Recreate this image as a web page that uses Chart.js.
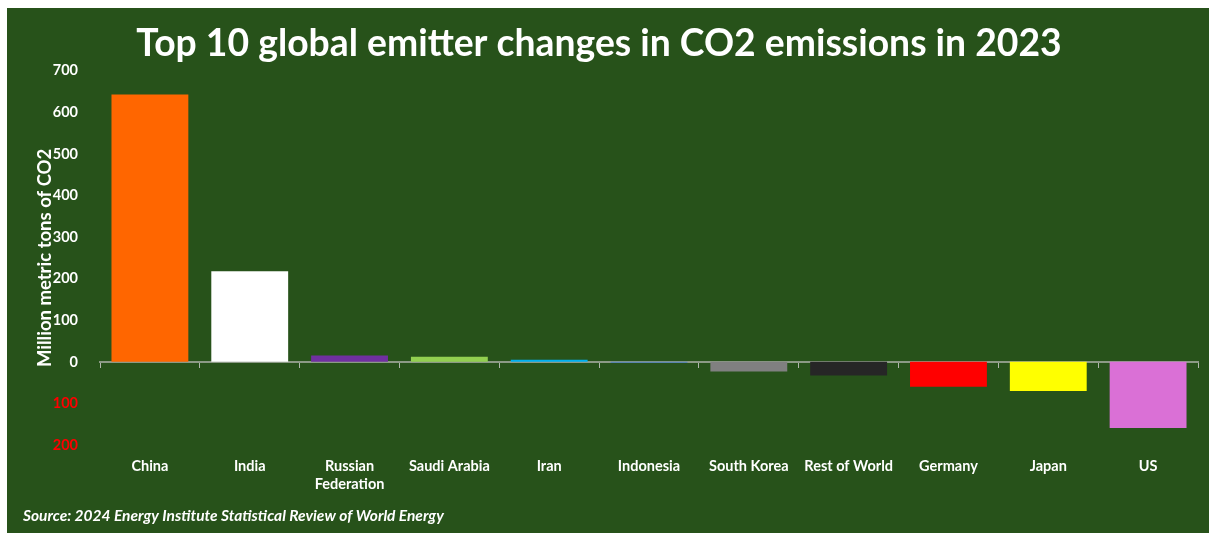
<!DOCTYPE html>
<html>
<head>
<meta charset="utf-8">
<script src="https://cdn.jsdelivr.net/npm/chart.js@4/dist/chart.umd.min.js"></script>
<style>
    html, body { margin: 0; padding: 0; background: #fff; }
    #wrap { position: relative; width: 1209px; height: 533px; }
</style>
</head>
<body>
<div id="wrap"><canvas id="co2Chart"></canvas></div>
<script>
const countries = ["China", "India", ["Russian", "Federation"], "Saudi Arabia", "Iran", "Indonesia",
    "South Korea", "Rest of World", "Germany", "Japan", "US"];
const changes = [643, 218, 15, 12, 5, -2, -23, -33, -60, -70, -159];
const barColors = ["#FF6600", "#FFFFFF", "#7030A0", "#92D050", "#00B0F0", "#4A7EBB",
    "#808080", "#262626", "#FF0000", "#FFFF00", "#DA70D6"];
const yTicks = [-200, -100, 0, 100, 200, 300, 400, 500, 600, 700];

const green = "#27521A";
const fontFamily = "Lato, 'Open Sans', sans-serif";

const panelBg = {
    id: "panelBg",
    beforeDraw(chart) {
        const c = chart.ctx;
        c.save();
        c.fillStyle = green;
        c.fillRect(7, 8, chart.width - 7, chart.height - 8);
        c.restore();
    },
    afterDraw(chart) {
        const c = chart.ctx;
        c.save();
        c.fillStyle = "#fff";
        c.font = "italic bold 15.5px " + fontFamily;
        c.textBaseline = "middle";
        c.fillText("Source: 2024 Energy Institute Statistical Review of World Energy", 23, 516);
        c.restore();
    }
};

const ctx = document.getElementById("co2Chart").getContext("2d");

new Chart(ctx, {
    type: "bar",
    data: {
        labels: countries,
        datasets: [{
            data: changes,
            backgroundColor: barColors,
            borderWidth: 0,
            barPercentage: 0.77,
            categoryPercentage: 1
        }]
    },
    options: {
        responsive: true,
        maintainAspectRatio: false,
        animation: false,
        layout: { padding: { left: 0, right: 11, top: 0, bottom: 40 } },
        plugins: {
            legend: { display: false },
            tooltip: { enabled: false },
            title: {
                display: true,
                text: "Top 10 global emitter changes in CO2 emissions in 2023",
                color: "#fff",
                font: { family: fontFamily, size: 37.3, weight: "bold" },
                padding: { top: 22, bottom: 4 }
            }
        },
        scales: {
            x: {
                afterFit(scale) { scale.height = 48; },
                grid: { display: false },
                border: { display: false },
                ticks: {
                    color: "#fff",
                    padding: 5,
                    maxRotation: 0,
                    autoSkip: false,
                    font: { family: fontFamily, size: 14.5, weight: "bold" }
                }
            },
            x2: {
                axis: "x",
                type: "category",
                labels: countries,
                offset: true,
                position: { y: 0 },
                border: { display: true, color: "#8C9A86", width: 2 },
                grid: { display: true, drawOnChartArea: false, color: "#B0B8AC", tickLength: 5, offset: true },
                ticks: { display: false }
            },
            y: {
                min: -200,
                max: 700,
                afterBuildTicks(scale) {
                    scale.ticks = yTicks.map(v => ({ value: v }));
                },
                afterFit(scale) { scale.width = 100; },
                grid: { display: false },
                border: { display: false },
                ticks: {
                    padding: 14,
                    callback: v => Math.abs(v),
                    color: c => (c.tick.value < 0 ? "#FF0000" : "#FFFFFF"),
                    font: { family: fontFamily, size: 14.5, weight: "bold" }
                },
                title: {
                    display: true,
                    text: "Million metric tons of CO2",
                    color: "#fff",
                    font: { family: fontFamily, size: 18.5, weight: "bold" },
                    padding: { top: 34, bottom: 0 }
                }
            }
        }
    },
    plugins: [panelBg]
});
</script>
</body>
</html>
